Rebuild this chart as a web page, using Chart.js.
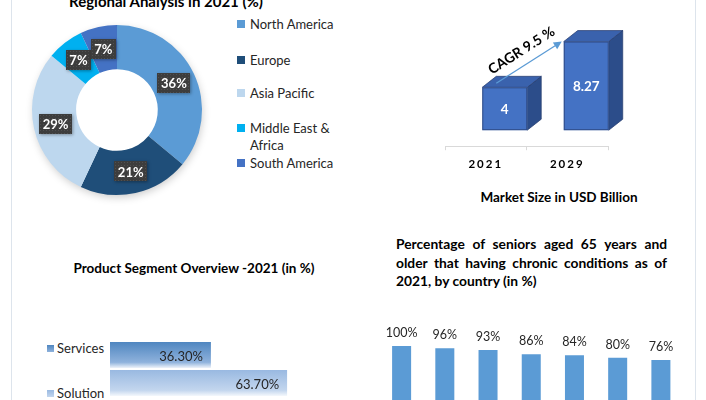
<!DOCTYPE html>
<html>
<head>
<meta charset="utf-8">
<script src="https://cdn.jsdelivr.net/npm/chart.js@4.4.1/dist/chart.umd.min.js"></script>
<style>
html, body { margin: 0; padding: 0; background: #fff; }
body { width: 706px; height: 400px; position: relative; overflow: hidden; font-family: Lato, "Open Sans", sans-serif; color: #000; }
canvas { position: absolute; }
.vline { position: absolute; top: 0; bottom: 0; width: 1px; background: #dde4ec; }
.title { position: absolute; font-weight: bold; white-space: nowrap; transform: translate(-50%, -50%); line-height: 1.2; }
#regionLegend, #segLegend { position: absolute; font-size: 13px; color: #262626; }
.leg { position: absolute; left: 0; line-height: 17px; }
.leg i { position: absolute; top: 4.5px; left: 0; width: 8px; height: 8px; }
.leg span { position: absolute; left: 13px; top: 0; }
#seniorTitle { position: absolute; left: 396px; top: 235px; width: 271px; font-weight: bold; font-size: 13.8px; line-height: 18.5px; }
#seniorTitle .j { text-align: justify; text-align-last: justify; white-space: nowrap; }
</style>
</head>
<body>
<div class="vline" style="left:11px"></div>
<div class="vline" style="left:695px"></div>

<div class="title" style="left:166px;top:1px;font-size:15px">Regional Analysis in 2021 (%)</div>
<canvas id="regionChart" width="234" height="220" style="left:0;top:0"></canvas>
<div id="regionLegend" style="left:237px;top:0"></div>

<canvas id="marketChart" width="200" height="160" style="left:430px;top:20px"></canvas>
<div class="title" style="left:559px;top:197px;font-size:13.5px">Market Size in USD Billion</div>

<div class="title" style="left:194px;top:268px;font-size:13.5px">Product Segment Overview -2021 (in %)</div>
<div id="segLegend" style="left:47px;top:0"></div>
<canvas id="segChart" width="400" height="98" style="left:0;top:320px"></canvas>

<div id="seniorTitle">
  <div class="j">Percentage of seniors aged 65 years and</div>
  <div class="j">older that having chronic conditions as of</div>
  <div>2021, by country (in %)</div>
</div>
<canvas id="seniorChart" width="330" height="100" style="left:370px;top:320px"></canvas>

<script>
// regional split, 2021
const regionLabels = ['North America', 'Europe', 'Asia Pacific', 'Middle East & Africa', 'South America'];
const regionShare = [36, 21, 29, 7, 7];
const regionColors = ['#5B9BD5', '#1F4E79', '#BDD7EE', '#00B0F0', '#4472C4'];

// market size (USD billion)
const marketYears = ['2021', '2029'];
const marketSize = [4, 8.27];
const cagrText = 'CAGR 9.5 %';

// product segments
const segmentLabels = ['Services', 'Solution'];
const segmentShare = [36.3, 63.7];
const segmentColors = [['#4f86c0', '#8fb2dc', '#eef3fa'], ['#99b9e1', '#c3d6ee', '#f4f8fc']];

// seniors with chronic conditions (country names are cut off in the picture)
const seniorCountries = ['', '', '', '', '', '', ''];
const seniorShare = [100, 96, 93, 86, 84, 80, 76];

const FONT = 'Lato, "Open Sans", sans-serif';

// legend for the doughnut
var legendTop = [24, 60, 93, 128, 163];
var regionLegend = document.getElementById('regionLegend');
regionLabels.forEach(function(label, i) {
    var div = document.createElement('div');
    div.className = 'leg';
    div.style.top = (legendTop[i] - 8.5) + 'px';
    div.style.width = '100px';
    div.innerHTML = '<i style="background:' + regionColors[i] + '"></i><span style="width:88px;white-space:normal">' + label.replace('&', '&amp;') + '</span>';
    regionLegend.appendChild(div);
});

// legend for the segment bars
var segLegendTop = [348, 393];
var segLegend = document.getElementById('segLegend');
segmentLabels.forEach(function(label, i) {
    var div = document.createElement('div');
    div.className = 'leg';
    div.style.top = (segLegendTop[i] - 8.5) + 'px';
    var c = segmentColors[i];
    div.innerHTML = '<i style="width:7px;height:7px;top:5px;background:linear-gradient(' + c[0] + ',' + c[1] + ')"></i><span style="left:10px;white-space:nowrap">' + label + '</span>';
    segLegend.appendChild(div);
});

const donutLabels = {
    id: 'donutLabels',
    beforeDatasetsDraw(chart) {
        // soft drop shadow under the ring
        const arc = chart.getDatasetMeta(0).data[0];
        if (!arc) return;
        const ctx = chart.ctx;
        ctx.save();
        ctx.shadowColor = 'rgba(0,0,0,0.22)';
        ctx.shadowBlur = 9;
        ctx.shadowOffsetX = 1;
        ctx.shadowOffsetY = 3;
        ctx.fillStyle = '#fff';
        ctx.beginPath();
        ctx.arc(arc.x, arc.y, arc.outerRadius - 1, 0, Math.PI * 2);
        ctx.fill();
        ctx.restore();
    },
    afterDatasetsDraw(chart) {
        const ctx = chart.ctx;
        ctx.save();
        ctx.font = 'bold 13px ' + FONT;
        ctx.textAlign = 'center';
        ctx.textBaseline = 'middle';
        chart.getDatasetMeta(0).data.forEach(function(arc, i) {
            const p = arc.tooltipPosition();
            const txt = regionShare[i] + '%';
            const w = Math.round(ctx.measureText(txt).width + 7), h = 20;
            const x0 = Math.round(p.x - w / 2), y0 = Math.round(p.y - h / 2);
            ctx.shadowColor = 'rgba(0,0,0,0.35)';
            ctx.shadowBlur = 3;
            ctx.shadowOffsetX = 1;
            ctx.shadowOffsetY = 1;
            ctx.fillStyle = '#3d3d3d';
            ctx.fillRect(x0, y0, w, h);
            ctx.shadowColor = 'transparent';
            ctx.fillStyle = 'rgba(255,255,255,0.10)';
            for (let yy = y0 + 1; yy < y0 + h; yy += 3) {
                for (let xx = x0 + 1; xx < x0 + w; xx += 3) ctx.fillRect(xx, yy, 1, 1);
            }
            ctx.fillStyle = '#fff';
            ctx.fillText(txt, p.x, p.y + 1);
        });
        ctx.restore();
    }
};

new Chart(document.getElementById('regionChart'), {
    type: 'doughnut',
    data: {
        labels: regionLabels,
        datasets: [{ data: regionShare, backgroundColor: regionColors, borderWidth: 0 }]
    },
    options: {
        responsive: false,
        animation: false,
        cutout: '48%',
        layout: { padding: { left: 32, right: 32, top: 25, bottom: 25 } },
        plugins: { legend: { display: false }, tooltip: { enabled: false } }
    },
    plugins: [donutLabels]
});

// 3D look for the market size columns
const bars3d = {
    id: 'bars3d',
    beforeDraw(chart) {
        chart.ctx.letterSpacing = '2px';
    },
    afterDatasetsDraw(chart) {
        const ctx = chart.ctx;
        ctx.save();
        ctx.letterSpacing = '0px';
        const dx = 14, dy = -11, shift = 19, lift = 16;
        const fronts = chart.getDatasetMeta(0).data.map(function(el) {
            const left = el.x - el.width / 2 + shift;
            return { left: left, right: left + el.width, top: el.y - lift, bottom: el.base - lift };
        });
        ctx.lineWidth = 1;
        ctx.strokeStyle = 'rgba(38,60,110,0.7)';
        fronts.forEach(function(f, i) {
            ctx.fillStyle = '#2c4d8a';
            ctx.beginPath();
            ctx.moveTo(f.right, f.top);
            ctx.lineTo(f.right + dx, f.top + dy);
            ctx.lineTo(f.right + dx, f.bottom + dy);
            ctx.lineTo(f.right, f.bottom);
            ctx.closePath();
            ctx.fill();
            ctx.stroke();
            ctx.fillStyle = '#3a62ad';
            ctx.beginPath();
            ctx.moveTo(f.left, f.top);
            ctx.lineTo(f.left + dx, f.top + dy);
            ctx.lineTo(f.right + dx, f.top + dy);
            ctx.lineTo(f.right, f.top);
            ctx.closePath();
            ctx.fill();
            ctx.stroke();
            ctx.fillStyle = '#4472c4';
            ctx.fillRect(f.left, f.top, f.right - f.left, f.bottom - f.top);
            ctx.strokeRect(f.left + 0.5, f.top + 0.5, f.right - f.left - 1, f.bottom - f.top - 1);
            ctx.fillStyle = '#fff';
            ctx.font = 'bold 13.5px ' + FONT;
            ctx.textAlign = 'center';
            ctx.textBaseline = 'middle';
            ctx.fillText(String(marketSize[i]), (f.left + f.right) / 2, (f.top + f.bottom) / 2 + 1);
        });

        // CAGR arrow between the two columns
        const sx = fronts[0].left + 14, sy = fronts[0].top - 4;
        const ex = fronts[1].left - 2, ey = fronts[1].top;
        const a = Math.atan2(ey - sy, ex - sx);
        ctx.strokeStyle = '#5B9BD5';
        ctx.fillStyle = '#5B9BD5';
        ctx.lineWidth = 1.3;
        ctx.beginPath();
        ctx.moveTo(sx, sy);
        ctx.lineTo(ex - 6 * Math.cos(a), ey - 6 * Math.sin(a));
        ctx.stroke();
        ctx.beginPath();
        ctx.moveTo(ex, ey);
        ctx.lineTo(ex - 8 * Math.cos(a) + 4 * Math.sin(a), ey - 8 * Math.sin(a) - 4 * Math.cos(a));
        ctx.lineTo(ex - 8 * Math.cos(a) - 4 * Math.sin(a), ey - 8 * Math.sin(a) + 4 * Math.cos(a));
        ctx.closePath();
        ctx.fill();

        const mx = (sx + ex) / 2 + 14 * Math.sin(a), my = (sy + ey) / 2 - 14 * Math.cos(a);
        ctx.translate(mx, my);
        ctx.rotate(a);
        ctx.fillStyle = '#000';
        ctx.font = 'bold 14px ' + FONT;
        ctx.fillText(cagrText, 0, 0);
        ctx.restore();
    }
};

new Chart(document.getElementById('marketChart'), {
    type: 'bar',
    data: {
        labels: marketYears,
        datasets: [{ data: marketSize, backgroundColor: 'transparent', borderWidth: 0, barPercentage: 0.552, categoryPercentage: 1 }]
    },
    options: {
        responsive: false,
        animation: false,
        layout: { padding: { left: 15, right: 22, top: 19, bottom: 2 } },
        scales: {
            x: {
                grid: { offset: true, drawOnChartArea: false, tickLength: 4, color: '#d9d9d9' },
                border: { color: '#d9d9d9' },
                ticks: { font: { family: FONT, weight: 'bold', size: 11.5 }, color: '#000', padding: 7 }
            },
            y: { display: false, min: 0, max: 10 }
        },
        plugins: { legend: { display: false }, tooltip: { enabled: false } }
    },
    plugins: [bars3d]
});

// gradient bars + value labels for product segments
const segBars = {
    id: 'segBars',
    afterDatasetsDraw(chart) {
        const ctx = chart.ctx;
        ctx.save();
        chart.data.datasets.forEach(function(ds, d) {
            chart.getDatasetMeta(d).data.forEach(function(el) {
                const top = el.y - el.height / 2 + 1, bottom = el.y + el.height / 2 - 1;
                const c = segmentColors[d];
                const g = ctx.createLinearGradient(0, top, 0, bottom);
                g.addColorStop(0, c[0]);
                g.addColorStop(0.78, c[1]);
                g.addColorStop(1, c[2]);
                ctx.fillStyle = g;
                ctx.fillRect(el.base, top, el.x - el.base, bottom - top);
                ctx.fillStyle = '#262626';
                ctx.font = '13px ' + FONT;
                ctx.textAlign = 'right';
                ctx.textBaseline = 'middle';
                ctx.fillText(segmentShare[d].toFixed(2) + '%', el.x - 8, el.y + 2);
            });
        });
        ctx.restore();
    }
};

new Chart(document.getElementById('segChart'), {
    type: 'bar',
    data: {
        labels: ['2021'],
        datasets: segmentLabels.map(function(l, i) {
            return { label: l, data: [segmentShare[i]], backgroundColor: 'transparent', borderWidth: 0, barThickness: 28 };
        })
    },
    options: {
        indexAxis: 'y',
        responsive: false,
        animation: false,
        layout: { padding: { left: 110, right: 12, top: 0, bottom: 0 } },
        scales: { x: { display: false, min: 0, max: 100 }, y: { display: false } },
        plugins: { legend: { display: false }, tooltip: { enabled: false } }
    },
    plugins: [segBars]
});

const topLabels = {
    id: 'topLabels',
    afterDatasetsDraw(chart) {
        const ctx = chart.ctx;
        ctx.save();
        ctx.fillStyle = '#262626';
        ctx.font = '12.5px ' + FONT;
        ctx.textAlign = 'center';
        ctx.textBaseline = 'middle';
        chart.getDatasetMeta(0).data.forEach(function(el, i) {
            ctx.fillText(seniorShare[i] + '%', el.x, el.y - 13);
        });
        ctx.restore();
    }
};

new Chart(document.getElementById('seniorChart'), {
    type: 'bar',
    data: {
        labels: seniorCountries,
        datasets: [{ data: seniorShare, backgroundColor: '#5B9BD5', borderWidth: 0, barPercentage: 0.44, categoryPercentage: 1 }]
    },
    options: {
        responsive: false,
        animation: false,
        layout: { padding: { left: 10, right: 17.5, top: 14.3, bottom: 15.7 } },
        scales: { x: { display: false }, y: { display: false, min: 0, max: 120 } },
        plugins: { legend: { display: false }, tooltip: { enabled: false } }
    },
    plugins: [topLabels]
});
</script>
</body>
</html>
